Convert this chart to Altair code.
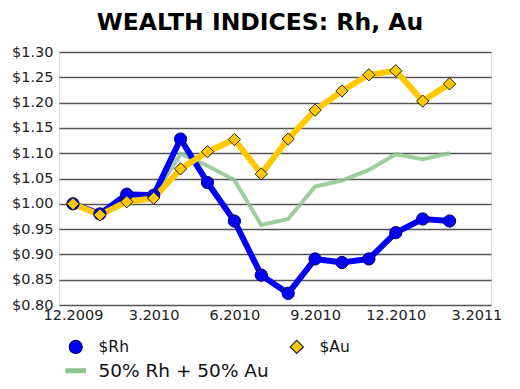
import altair as alt
import pandas as pd

months = list(range(15))
tick_labels = ["12.2009", "3.2010", "6.2010", "9.2010", "12.2010", "3.2011"]
tick_values = [0, 3, 6, 9, 12, 15]

rh = [1.000, 0.980, 1.019, 1.017, 1.128, 1.042, 0.966, 0.859, 0.823, 0.891,
      0.884, 0.891, 0.943, 0.970, 0.966]
au = [1.000, 0.978, 1.004, 1.011, 1.069, 1.103, 1.127, 1.059, 1.128, 1.185,
      1.223, 1.255, 1.263, 1.203, 1.237]
mix = [1.000, 0.979, 1.012, 1.014, 1.099, 1.075, 1.047, 0.958, 0.970, 1.034,
       1.046, 1.067, 1.098, 1.088, 1.100]

series_names = ["$Rh", "$Au", "50% Rh + 50% Au"]

rows = []
for name, vals in zip(series_names, [rh, au, mix]):
    for m, v in zip(months, vals):
        rows.append({"month": m, "value": v, "series": name})
df = pd.DataFrame(rows)

FONT = "DejaVu Sans"
BLUE = "#0000f5"
GOLD = "#ffc800"
GREEN = "#8cc88c"

label_expr = "[" + ",".join("'%s'" % t for t in tick_labels) + "][round(datum.value/3)]"

x_enc = alt.X("month:Q",
              scale=alt.Scale(domain=[-0.52, 15.54], nice=False, zero=False),
              axis=alt.Axis(values=tick_values, labelExpr=label_expr, title=None,
                            grid=False, ticks=False, domain=False,
                            labelFont=FONT, labelFontSize=14.5, labelColor="#222",
                            labelPadding=3, labelFlush=False))
y_vals = [round(0.80 + 0.05 * i, 2) for i in range(11)]
y_enc = alt.Y("value:Q",
              scale=alt.Scale(domain=[0.80, 1.30], nice=False, zero=False),
              axis=alt.Axis(values=y_vals, format="$.2f", title=None,
                            grid=True, gridColor="#555", gridWidth=1.5,
                            ticks=False, domain=False,
                            labelFont=FONT, labelFontSize=14.5, labelColor="#222",
                            labelPadding=6))

base = alt.Chart(df)

green_line = base.transform_filter(alt.datum.series == series_names[2]).mark_line(
    color=GREEN, strokeWidth=4, opacity=0.85).encode(x=x_enc, y=y_enc)
blue_line = base.transform_filter(alt.datum.series == series_names[0]).mark_line(
    color=BLUE, strokeWidth=6).encode(x=x_enc, y=y_enc)
gold_line = base.transform_filter(alt.datum.series == series_names[1]).mark_line(
    color=GOLD, strokeWidth=6).encode(x=x_enc, y=y_enc)

bar_path = "M-1.5,-0.3L1.5,-0.3L1.5,0.3L-1.5,0.3Z"

points = base.mark_point(filled=True, opacity=1, strokeWidth=1).encode(
    x=x_enc, y=y_enc,
    fill=alt.Fill("series:N", scale=alt.Scale(domain=series_names, range=[BLUE, GOLD, GREEN]),
                  title=None),
    stroke=alt.Stroke("series:N", scale=alt.Scale(domain=series_names, range=["#00006a", "#222", GREEN]),
                      title=None),
    shape=alt.Shape("series:N", scale=alt.Scale(domain=series_names, range=["circle", "diamond", bar_path]),
                    title=None),
    size=alt.condition(alt.datum.series == series_names[2], alt.value(0.5), alt.value(150)),
)

chart = alt.layer(green_line, blue_line, gold_line, points).properties(
    width=432, height=253,
    title=alt.TitleParams("WEALTH INDICES: Rh, Au", font=FONT, fontSize=23.5,
                          fontWeight="bold", color="#000", anchor="middle", dx=-15, offset=10),
    padding={"left": 3, "top": 2, "right": 5, "bottom": 5},
).configure_view(stroke="#444", strokeWidth=2).configure(background="white").configure_legend(
    orient="none", legendX=9, legendY=287, columns=2, direction="horizontal",
    columnPadding=18, rowPadding=5, padding=0,
    symbolSize=170, symbolStrokeWidth=1.2, labelOffset=15,
    labelFont=FONT, labelColor="#111", labelLimit=300,
    labelFontSize={"expr": "datum.label == '50% Rh + 50% Au' ? 18.5 : 15.5"},
)

chart.save("out.html", embed_options={"renderer": "svg", "actions": False})
